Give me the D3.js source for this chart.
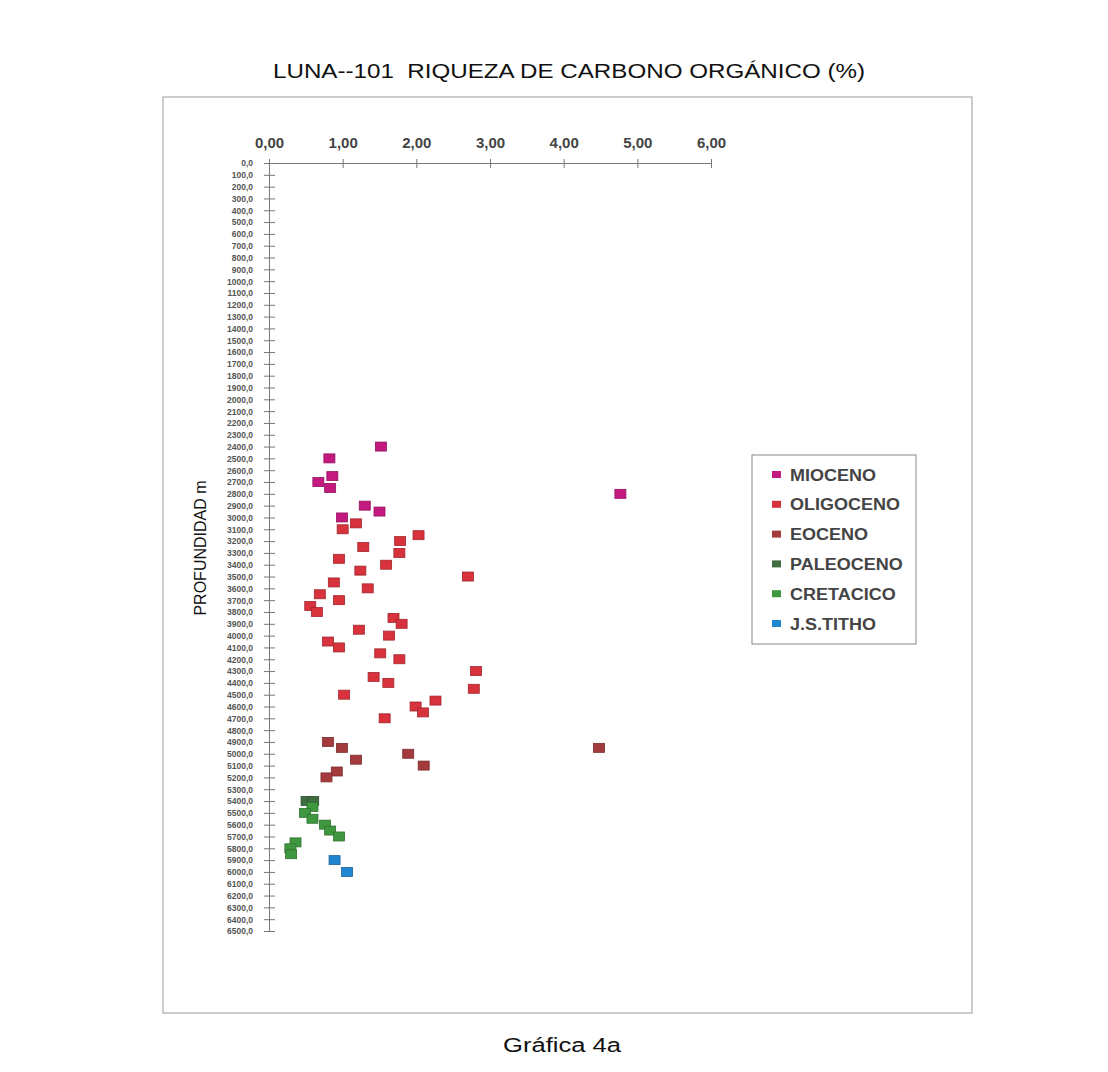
<!DOCTYPE html>
<html>
<head>
<meta charset="utf-8">
<script src="https://cdn.jsdelivr.net/npm/d3@7"></script>
<style>
  body { margin: 0; background: #fff; }
  svg { font-family: Arial, "Liberation Sans", sans-serif; }
</style>
</head>
<body>
<script>
// series names and colours (legend order)
const seriesNames = ["MIOCENO", "OLIGOCENO", "EOCENO", "PALEOCENO", "CRETACICO", "J.S.TITHO"];
const seriesColors = ["#c4197f", "#d8323c", "#a33b3c", "#3f6d3f", "#3f973f", "#1f86cf"];

// COT (%) and depth (m) for each series
const miocenoCOT   = [1.52, 0.82, 0.86, 0.67, 0.83, 1.30, 1.50, 0.99, 4.77];
const miocenoDepth = [2400, 2500, 2650, 2700, 2750, 2900, 2950, 3000, 2800];

const oligocenoCOT   = [1.18, 1.00, 2.03, 1.78, 1.28, 1.77, 0.95, 1.59, 1.24, 2.70, 0.88, 1.34, 0.69, 0.95, 0.56, 0.65,
                        1.69, 1.80, 1.22, 1.63, 0.80, 0.95, 1.51, 1.77, 2.81, 1.42, 1.62, 2.78, 1.02, 2.26, 1.99, 2.09, 1.57];
const oligocenoDepth = [3050, 3100, 3150, 3200, 3250, 3300, 3350, 3400, 3450, 3500, 3550, 3600, 3650, 3700, 3750, 3800,
                        3850, 3900, 3950, 4000, 4050, 4100, 4150, 4200, 4300, 4350, 4400, 4450, 4500, 4550, 4600, 4650, 4700];

const eocenoCOT   = [0.80, 0.99, 1.89, 1.18, 2.10, 0.92, 0.78, 4.48];
const eocenoDepth = [4900, 4950, 5000, 5050, 5100, 5150, 5200, 4950];

const paleocenoCOT   = [0.51, 0.60];
const paleocenoDepth = [5400, 5400];

const cretacicoCOT   = [0.59, 0.49, 0.59, 0.76, 0.83, 0.95, 0.36, 0.29, 0.30];
const cretacicoDepth = [5450, 5500, 5550, 5600, 5650, 5700, 5750, 5800, 5850];

const tithoCOT   = [0.89, 1.06];
const tithoDepth = [5900, 6000];

const xTicks = [0, 1, 2, 3, 4, 5, 6];
const yTicks = d3.range(0, 6501, 100);

const seriesData = [
  [miocenoCOT, miocenoDepth],
  [oligocenoCOT, oligocenoDepth],
  [eocenoCOT, eocenoDepth],
  [paleocenoCOT, paleocenoDepth],
  [cretacicoCOT, cretacicoDepth],
  [tithoCOT, tithoDepth]
];

const width = 1108, height = 1072;

const svg = d3.select("body").append("svg")
  .attr("width", width)
  .attr("height", height);

// title (scan is a little wider than the font, so stretch it)
svg.append("text")
  .attr("x", 273).attr("y", 78)
  .attr("font-size", 20)
  .attr("fill", "#111")
  .attr("textLength", 592)
  .attr("lengthAdjust", "spacingAndGlyphs")
  .style("white-space", "pre")
  .text("LUNA--101  RIQUEZA DE CARBONO ORGÁNICO (%)");

// outer frame
svg.append("rect")
  .attr("x", 163).attr("y", 97)
  .attr("width", 809).attr("height", 916)
  .attr("fill", "none")
  .attr("stroke", "#999")
  .attr("stroke-width", 1);

// scales
const x = d3.scaleLinear().domain([0, 6]).range([269, 711]);
const y = d3.scaleLinear().domain([0, 6500]).range([163, 931]);

// x axis (top)
const xAxis = svg.append("g")
  .attr("transform", `translate(0,${y(0)})`)
  .call(d3.axisTop(x).tickValues(xTicks).tickSizeInner(0).tickSizeOuter(0).tickFormat(""));
xAxis.select(".domain").attr("stroke", "#777");
xAxis.selectAll(".tick line").remove();
xAxis.selectAll(".tick").append("line")
  .attr("y1", -4).attr("y2", 5).attr("stroke", "#777");
xAxis.selectAll(".tick").append("text")
  .attr("y", -15)
  .attr("text-anchor", "middle")
  .attr("fill", "#444")
  .attr("font-size", 15)
  .attr("font-weight", "bold")
  .text(d => d3.format(".2f")(d).replace(".", ","));

// y axis (left)
const yAxis = svg.append("g")
  .attr("transform", `translate(${x(0)},0)`)
  .call(d3.axisLeft(y).tickValues(yTicks).tickSizeInner(0).tickSizeOuter(0).tickFormat(""));
yAxis.select(".domain").attr("stroke", "#777");
yAxis.selectAll(".tick line").remove();
yAxis.selectAll(".tick").append("line")
  .attr("x1", -5).attr("x2", 6).attr("stroke", "#777");
yAxis.selectAll(".tick").append("text")
  .attr("x", -16)
  .attr("dy", "0.34em")
  .attr("text-anchor", "end")
  .attr("fill", "#555")
  .attr("font-size", 8.5)
  .attr("font-weight", "bold")
  .text(d => d3.format(".1f")(d).replace(".", ","));

// y label
svg.append("text")
  .attr("transform", "translate(206,548) rotate(-90)")
  .attr("text-anchor", "middle")
  .attr("font-size", 16)
  .attr("fill", "#111")
  .text("PROFUNDIDAD m");

// points
const mw = 11, mh = 9;
seriesData.forEach(([xs, ys], i) => {
  svg.append("g").selectAll("rect")
    .data(xs.map((v, j) => [v, ys[j]]))
    .join("rect")
    .attr("x", d => x(d[0]) - mw / 2)
    .attr("y", d => y(d[1]) - mh / 2)
    .attr("width", mw).attr("height", mh)
    .attr("fill", seriesColors[i])
    .attr("stroke", d3.color(seriesColors[i]).darker(0.8))
    .attr("stroke-width", 0.8);
});

// legend
svg.append("rect")
  .attr("x", 752).attr("y", 455)
  .attr("width", 164).attr("height", 189)
  .attr("fill", "none")
  .attr("stroke", "#888");

const legend = svg.append("g").selectAll("g")
  .data(seriesNames)
  .join("g")
  .attr("transform", (d, i) => `translate(0,${474.5 + i * 29.8})`);
legend.append("rect")
  .attr("x", 772).attr("y", -3.5)
  .attr("width", 9).attr("height", 7)
  .attr("fill", (d, i) => seriesColors[i]);
legend.append("text")
  .attr("x", 790)
  .attr("dy", "0.36em")
  .attr("font-size", 17)
  .attr("font-weight", "bold")
  .attr("fill", "#444")
  .attr("transform", "translate(790,0) scale(1.06,1) translate(-790,0)")
  .text(d => d);

// caption
svg.append("text")
  .attr("x", 503).attr("y", 1052)
  .attr("font-size", 20)
  .attr("fill", "#111")
  .attr("textLength", 118)
  .attr("lengthAdjust", "spacingAndGlyphs")
  .text("Gráfica 4a");
</script>
</body>
</html>
